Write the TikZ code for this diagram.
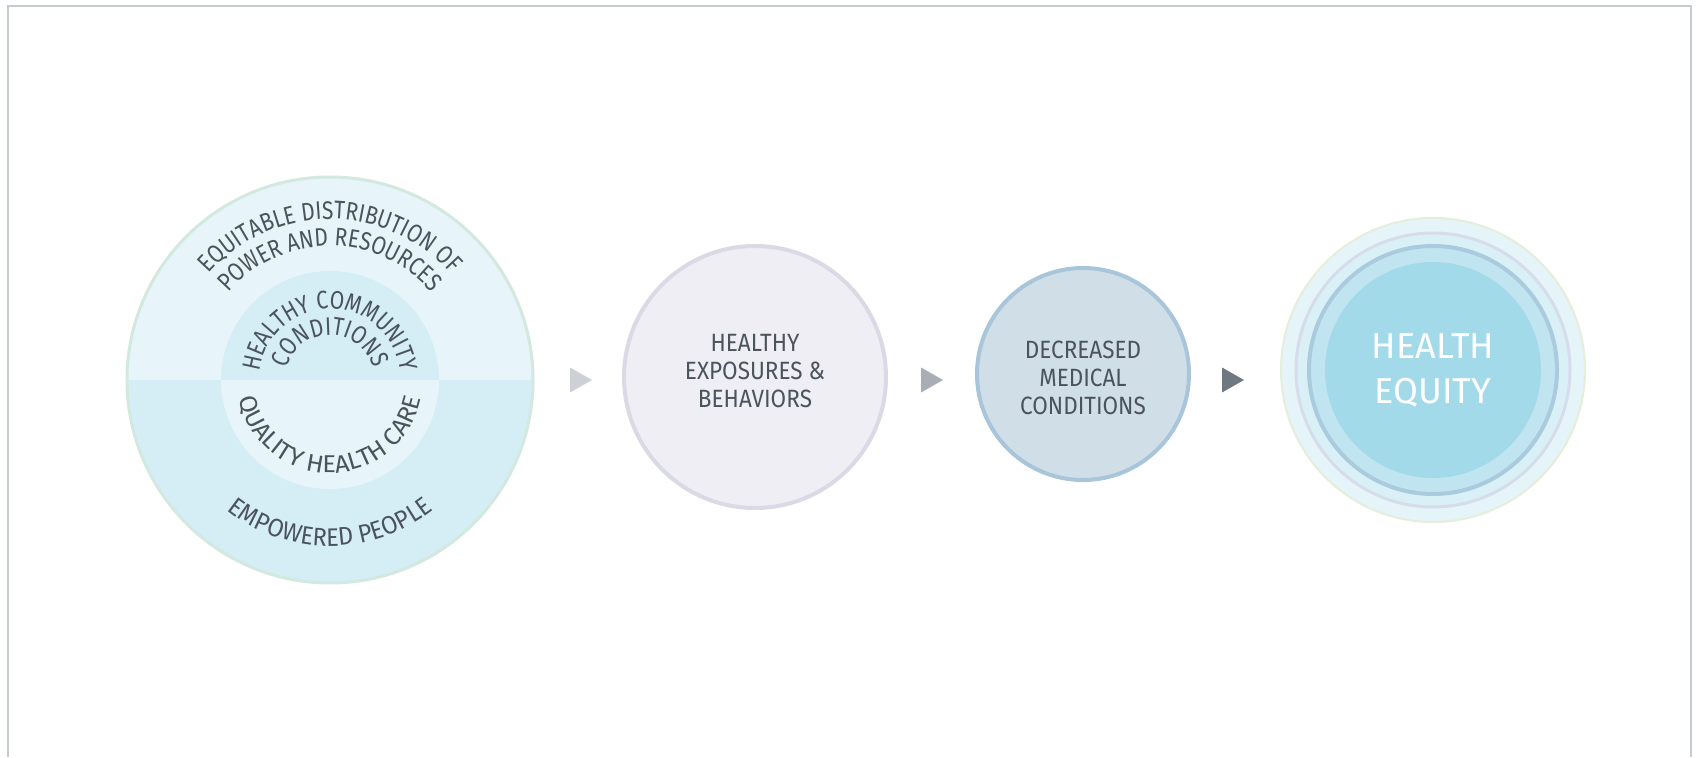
\documentclass[tikz,border=0pt]{standalone}
\usepackage{fontspec}
\setmainfont{Fira Sans}
\newfontfamily\cfont[FakeStretch=0.9]{Fira Sans}
\newfontfamily\rfont[FakeStretch=0.83]{Fira Sans}
\newfontfamily\rfontB[FakeStretch=1.04]{Fira Sans}
\newfontfamily\rfontC[FakeStretch=0.93]{Fira Sans}
\usetikzlibrary{decorations.text}
\definecolor{frame}{HTML}{C6CBCF}
\definecolor{txt}{HTML}{4B535C}
\definecolor{cA}{HTML}{E7F5FA}
\definecolor{cB}{HTML}{D5EEF5}
\definecolor{cBorder}{HTML}{D3E8DE}
\definecolor{eFill}{HTML}{EEEEF4}
\definecolor{eLine}{HTML}{DADAE6}
\definecolor{dFill}{HTML}{D0DEE8}
\definecolor{dLine}{HTML}{A8C5DA}
\definecolor{arA}{HTML}{CDD1D5}
\definecolor{arB}{HTML}{A8AEB3}
\definecolor{arC}{HTML}{6F7780}
\definecolor{hOut}{HTML}{E5F4F9}
\definecolor{hOutLine}{HTML}{E4EEDA}
\definecolor{hMid}{HTML}{D9F0F7}
\definecolor{hMidLine}{HTML}{D6DCEA}
\definecolor{hRing}{HTML}{C0E5F0}
\definecolor{hRingLine}{HTML}{A9CBDD}
\definecolor{hIn}{HTML}{A3DAEA}
\newcommand{\ringfont}{\rfont\fontsize{12.7}{14}\selectfont}
\newcommand{\ringfontB}{\rfontB\fontsize{12.2}{14}\selectfont}
\newcommand{\ringfontC}{\rfontC\fontsize{12.7}{14}\selectfont}
\tikzset{
  ringtext/.style 2 args={decorate,decoration={text along path,text align=center,
     text color=txt,text={|#1|#2}}},
  stage/.style={circle,inner sep=0pt,align=center,text=txt,
     font=\cfont\fontsize{12.5}{14}\selectfont}
}
\begin{document}
\begin{tikzpicture}[x=0.5pt,y=0.5pt]
\useasboundingbox (0,0) rectangle (1698,757);
% frame
\draw[frame,line width=1pt] (8,0) -- (8,751) -- (1691,751) -- (1691,0);
% ---- left circle
\coordinate (c1) at (330,377);
\fill[cA] (c1) ++(0:204) arc[start angle=0,end angle=180,radius=204] -- cycle;
\fill[cB] (c1) ++(180:204) arc[start angle=180,end angle=360,radius=204] -- cycle;
\fill[cB] (c1) ++(0:109) arc[start angle=0,end angle=180,radius=109] -- cycle;
\fill[cA] (c1) ++(180:109) arc[start angle=180,end angle=360,radius=109] -- cycle;
\draw[cBorder,line width=1.5pt] (c1) circle[radius=203];
\path[ringtext={\ringfont}{EQUITABLE DISTRIBUTION OF}] (c1) ++(195:161) arc[start angle=195,end angle=-15,radius=161];
\path[ringtext={\ringfont}{POWER AND RESOURCES}] (c1) ++(195:134) arc[start angle=195,end angle=-15,radius=134];
\path[ringtext={\ringfont}{HEALTHY COMMUNITY}] (c1) ++(195:71) arc[start angle=195,end angle=-15,radius=71];
\path[ringtext={\ringfont}{CONDITIONS}] (c1) ++(195:45) arc[start angle=195,end angle=-15,radius=45];
\path[ringtext={\ringfontB}{QUALITY HEALTH CARE}] (c1) ++(150:93) arc[start angle=150,end angle=390,radius=93];
\path[ringtext={\ringfontC}{EMPOWERED PEOPLE}] (c1) ++(165:166) arc[start angle=165,end angle=375,radius=166];
% ---- stage circles
\node[stage,fill=eFill,draw=eLine,line width=2pt,minimum size=131pt] (c2) at (755,380) {};
\node[stage] (t2) at (755,386) {HEALTHY\\EXPOSURES \&\\BEHAVIORS};
\node[stage,fill=dFill,draw=dLine,line width=2pt,minimum size=106pt] (c3) at (1083,383) {};
\node[stage] (t3) at (1083,379) {DECREASED\\MEDICAL\\CONDITIONS};
% ---- health equity
\node[circle,fill=hOut,draw=hOutLine,line width=1pt,minimum size=152pt,inner sep=0pt] (c4) at (1433,387) {};
\node[circle,fill=hMid,draw=hMidLine,line width=1.5pt,minimum size=137pt,inner sep=0pt] (c4b) at (c4) {};
\node[circle,fill=hRing,draw=hRingLine,line width=2pt,minimum size=124pt,inner sep=0pt] (c4c) at (c4) {};
\node[circle,fill=hIn,minimum size=108pt,inner sep=0pt] (c4d) at (c4) {};
\node[align=center,text=white,font=\fontsize{18}{22.5}\selectfont] (t4) at (1433,387) {HEALTH\\EQUITY};
% ---- arrows
\fill[arA] (570,389.5) -- (592,377) -- (570,364.5) -- cycle;
\fill[arB] (921,389.5) -- (943,377) -- (921,364.5) -- cycle;
\fill[arC] (1222,389.5) -- (1244,377) -- (1222,364.5) -- cycle;
\end{tikzpicture}
\end{document}
